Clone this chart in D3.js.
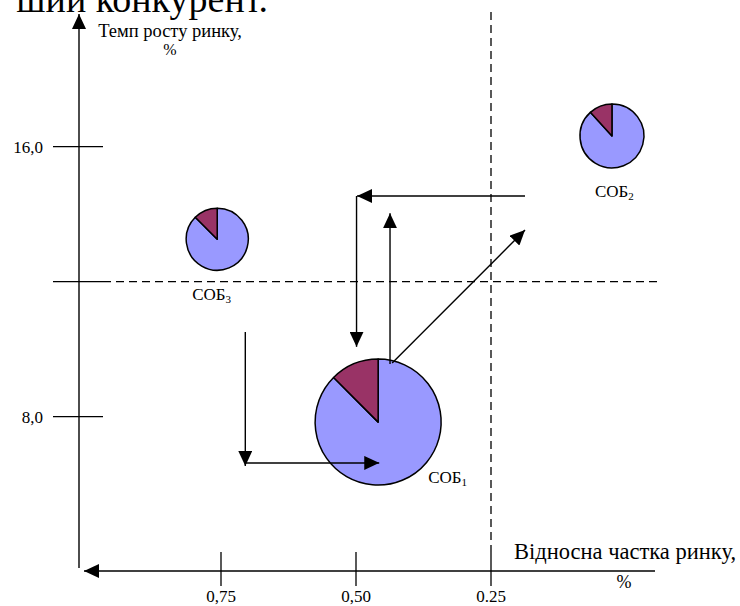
<!DOCTYPE html>
<html><head><meta charset="utf-8">
<script src="https://cdn.jsdelivr.net/npm/d3@7"></script>
<style>html,body{margin:0;padding:0;background:#fff}svg{display:block}</style>
</head><body>
<svg id="c" width="740" height="606"></svg>
<script>
// ---- data ----
const units = ["СОБ", "СОБ", "СОБ"];
const unitIndex = ["1", "2", "3"];
const unitShare = [0.459, 0.026, 0.757];      // relative market share
const unitGrowth = [7.84, 16.32, 13.26];       // market growth, %
const unitSales = [4.0, 1.03, 0.97];           // size of business
const unitPart = [0.125, 0.118, 0.125];        // highlighted sector fraction
const xTicks = [0.75, 0.50, 0.25];
const xTickLabels = ["0,75", "0,50", "0.25"];
const yTicks = [16, 8];
const yTickLabels = ["16,0", "8,0"];
const yMid = 12;
const xMid = 0.25;
// strategic moves (from -> to), in share / growth units
const moveFromShare = [0.187, 0.499, 0.437, 0.433, 0.705, 0.705];
const moveFromGrowth = [14.54, 14.54, 9.56, 9.59, 10.51, 6.63];
const moveToShare = [0.498, 0.499, 0.437, 0.187, 0.705, 0.457];
const moveToGrowth = [14.54, 10.07, 14.03, 13.53, 6.54, 6.63];

// ---- chart ----
const svg = d3.select("#c");
const serif = "Liberation Serif, Times New Roman, DejaVu Serif, serif";
const x = d3.scaleLinear().domain([1, 0]).range([86, 626]);
const y = d3.scaleLinear().domain([8, 16]).range([416.7, 146.7]);
const r = d3.scaleSqrt().domain([0, 4]).range([0, 63]);

const defs = svg.append("defs");
defs.append("marker").attr("id", "ah").attr("viewBox", "0 0 15 14")
  .attr("refX", 15).attr("refY", 7).attr("markerWidth", 15).attr("markerHeight", 14)
  .attr("markerUnits", "userSpaceOnUse").attr("orient", "auto")
  .append("path").attr("d", "M0,0L15,7L0,14Z").attr("fill", "#000");

// heading fragment (cut by the top edge, as in the source)
svg.append("text").attr("x", 268).attr("y", 12).attr("text-anchor", "end")
  .attr("font-family", serif).attr("font-size", 38).text("ший конкурент.");

const axisX0 = 79, axisY0 = 571;
// y axis
svg.append("line").attr("x1", axisX0).attr("x2", axisX0).attr("y1", 568).attr("y2", 14)
  .attr("stroke", "#000").attr("stroke-width", 1.4).attr("marker-end", "url(#ah)");
// x axis
svg.append("line").attr("x1", 655).attr("x2", 84).attr("y1", axisY0).attr("y2", axisY0)
  .attr("stroke", "#000").attr("stroke-width", 1.4).attr("marker-end", "url(#ah)");

// y ticks
const yt = svg.append("g");
yTicks.concat([yMid]).forEach(v => {
  yt.append("line").attr("x1", 53).attr("x2", 103).attr("y1", y(v)).attr("y2", y(v))
    .attr("stroke", "#000").attr("stroke-width", 1.3);
});
yTicks.forEach((v, i) => {
  yt.append("text").attr("x", 43).attr("y", y(v)).attr("dy", "0.35em").attr("text-anchor", "end")
    .attr("font-family", serif).attr("font-size", 17).text(yTickLabels[i]);
});
// x ticks
xTicks.forEach((v, i) => {
  svg.append("line").attr("x1", x(v)).attr("x2", x(v)).attr("y1", 552).attr("y2", 586)
    .attr("stroke", "#000").attr("stroke-width", 1.3);
  svg.append("text").attr("x", x(v)).attr("y", 602).attr("text-anchor", "middle")
    .attr("font-family", serif).attr("font-size", 17).text(xTickLabels[i]);
});

// dashed quadrant lines
svg.append("line").attr("x1", 103).attr("x2", 658).attr("y1", y(yMid)).attr("y2", y(yMid))
  .attr("stroke", "#000").attr("stroke-width", 1.3).attr("stroke-dasharray", "8,5");
svg.append("line").attr("x1", x(xMid)).attr("x2", x(xMid)).attr("y1", 12).attr("y2", 552)
  .attr("stroke", "#000").attr("stroke-width", 1.3).attr("stroke-dasharray", "8,5");

// axis titles
svg.append("text").attr("x", 170).attr("y", 37).attr("text-anchor", "middle")
  .attr("font-family", serif).attr("font-size", 18.5).text("Темп росту ринку,");
svg.append("text").attr("x", 170).attr("y", 55).attr("text-anchor", "middle")
  .attr("font-family", serif).attr("font-size", 16).text("%");
svg.append("text").attr("x", 625).attr("y", 559).attr("text-anchor", "middle")
  .attr("font-family", serif).attr("font-size", 22.5).text("Відносна частка ринку,");
svg.append("text").attr("x", 624).attr("y", 588).attr("text-anchor", "middle")
  .attr("font-family", serif).attr("font-size", 18).text("%");

// pies
const pie = d3.pie().sort(null).startAngle(0).endAngle(2 * Math.PI);
const labelDx = [50, -17, -25], labelDy = [61, 61, 61];
units.forEach((u, i) => {
  const g = svg.append("g").attr("transform", `translate(${x(unitShare[i])},${y(unitGrowth[i])})`);
  const arc = d3.arc().innerRadius(0).outerRadius(r(unitSales[i]));
  g.selectAll("path").data(pie([1 - unitPart[i], unitPart[i]])).join("path")
    .attr("d", arc).attr("fill", (d, j) => j === 0 ? "#9999FF" : "#993366")
    .attr("stroke", "#000").attr("stroke-width", 1.5).attr("stroke-linejoin", "round");
  const t = g.append("text").attr("x", labelDx[i]).attr("y", labelDy[i])
    .attr("font-family", serif).attr("font-size", 17);
  t.append("tspan").text(u);
  t.append("tspan").attr("font-size", 11).attr("dy", 3).text(unitIndex[i]);
});

// moves (drawn over the pies)
moveFromShare.forEach((s, i) => {
  svg.append("line")
    .attr("x1", x(s)).attr("y1", y(moveFromGrowth[i]))
    .attr("x2", x(moveToShare[i])).attr("y2", y(moveToGrowth[i]))
    .attr("stroke", "#000").attr("stroke-width", 1.4).attr("marker-end", "url(#ah)");
});
</script>
</body></html>
